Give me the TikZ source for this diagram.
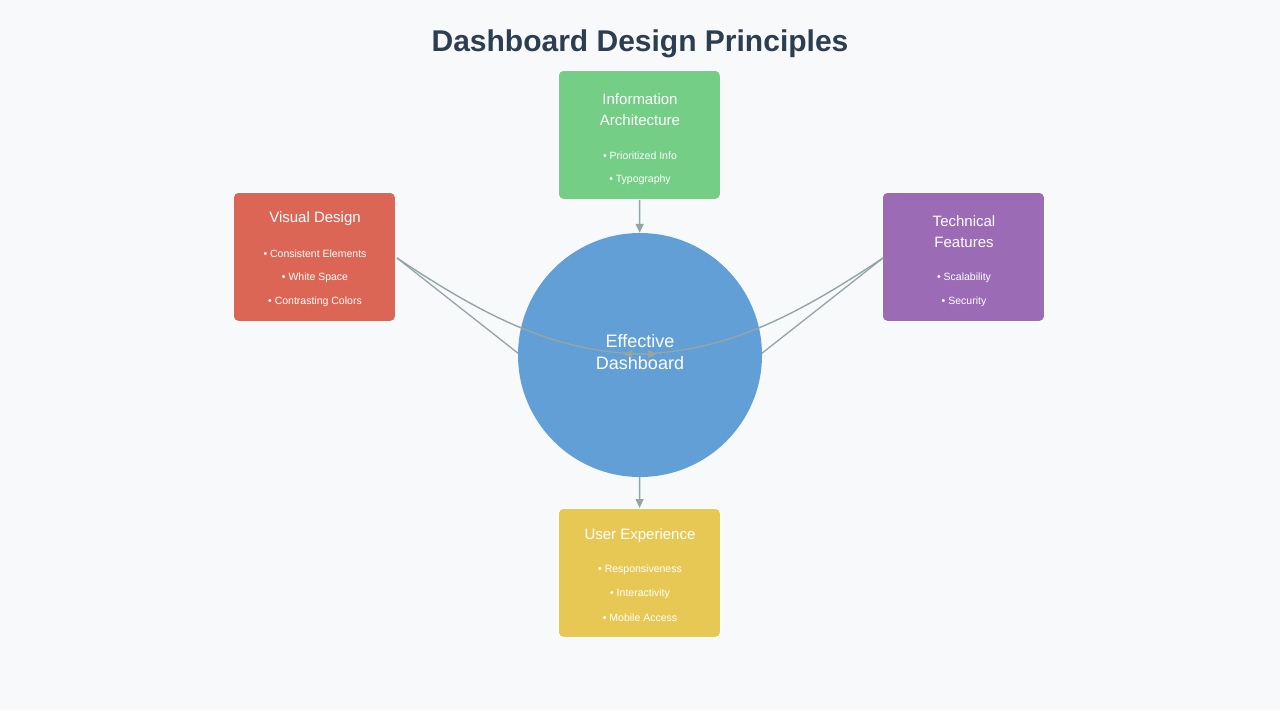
\documentclass[tikz,border=0pt]{standalone}
\usepackage{fontspec}
\setmainfont{Liberation Sans}
\usetikzlibrary{arrows.meta}
\definecolor{bg}{HTML}{F7F9FB}
\definecolor{ttl}{HTML}{2C3E50}
\definecolor{cg}{HTML}{74CE86}
\definecolor{cr}{HTML}{DC6656}
\definecolor{cp}{HTML}{9B6BB6}
\definecolor{cy}{HTML}{E8C855}
\definecolor{cb}{HTML}{629FD7}
\definecolor{ln}{HTML}{95A5A6}
\tikzset{x=1pt,y=-1pt,
 box/.style={rounded corners=5pt,minimum width=162pt,minimum height=129pt,draw=white,line width=0.8pt,anchor=north west,inner sep=0pt},
 hd/.style={text=white,font=\fontsize{15}{18}\selectfont,align=center},
 bl/.style={text=white,font=\fontsize{10.5}{12}\selectfont},
 conn/.style={draw=ln,line width=1.4pt,-{Triangle[length=9pt,width=8pt]}},
 plain/.style={draw=ln,line width=1.3pt}}
\begin{document}
\begin{tikzpicture}
\fill[bg] (0,0) rectangle (1280,710);
\useasboundingbox (0,0) rectangle (1280,710);
\node[text=ttl,font=\bfseries\fontsize{30}{34}\selectfont] (title) at (640,44) {Dashboard Design Principles};
% boxes
\node[box,fill=cg] (ia) at (558,70) {};
\node[box,fill=cr] (vd) at (233,192) {};
\node[box,fill=cp] (tf) at (882,192) {};
\node[box,fill=cy] (ux) at (558,508) {};
\node[hd] (iat) at (640,110) {Information\\[3pt]Architecture};
\node[bl] (ia1) at (640,156) {• Prioritized Info};
\node[bl] (ia2) at (640,180) {• Typography};
\node[hd] (vdt) at (315,219) {Visual Design};
\node[bl] (vd1) at (315,254) {• Consistent Elements};
\node[bl] (vd2) at (315,278) {• White Space};
\node[bl] (vd3) at (315,302) {• Contrasting Colors};
\node[hd] (tft) at (964,232) {Technical\\[3pt]Features};
\node[bl] (tf1) at (964,278) {• Scalability};
\node[bl] (tf2) at (964,302) {• Security};
\node[hd] (uxt) at (640,536) {User Experience};
\node[bl] (ux1) at (640,570) {• Responsiveness};
\node[bl] (ux2) at (640,594) {• Interactivity};
\node[bl] (ux3) at (640,618) {• Mobile Access};
\coordinate (vdr) at (397,258);
\coordinate (tfl) at (883,258);
\coordinate (cl) at (519,354);
\coordinate (cr) at (761,354);
\draw[plain] (vdr) -- (cl);
\draw[plain] (tfl) -- (cr);
\node[circle,fill=cb,minimum size=244pt,inner sep=0pt] (c) at (640,355) {};
\node[hd,font=\fontsize{18}{22}\selectfont] (ct) at (640,352) {Effective\\Dashboard};
\draw[conn] (vdr) .. controls (490,320) and (560,354) .. (657,354);
\draw[conn] (tfl) .. controls (790,320) and (720,354) .. (623,354);
\draw[conn] (ia) -- (c);
\draw[conn] (c) -- (ux);
\end{tikzpicture}
\end{document}
